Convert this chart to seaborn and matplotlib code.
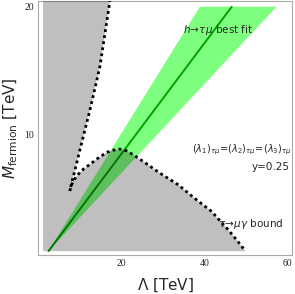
import numpy as np
import pandas as pd
import matplotlib
matplotlib.use('Agg')
import matplotlib.pyplot as plt
import seaborn as sns

# Boundary curves (Lambda [TeV], M_fermion [TeV])
upper_lam = [17.3, 17.1, 14.7, 12.3, 11.1, 9.9, 8.7, 7.9, 7.45]
upper_m = [21.0, 20.4, 15.3, 11.9, 10.35, 8.8, 7.2, 6.2, 5.57]

hump_lam = [7.45, 7.8, 8.4, 9.4, 10.8, 12.3, 14.7, 16.5, 17.8, 19.5, 21.2, 23.0,
            25.5, 29.0, 33.6, 37.5, 41.6, 45.6, 48.0, 49.8]
hump_m = [5.57, 6.0, 6.4, 6.85, 7.3, 7.65, 8.25, 8.6, 8.75, 8.85, 8.7, 8.35,
          7.8, 7.0, 6.05, 5.0, 3.97, 2.54, 1.6, 0.85]

# h -> tau mu best fit band
band_base = (2.3, 0.85)
band_left_top = (38.8, 20.0)
band_right_top = (57.3, 20.0)
best_fit_lam = [2.3, 46.5]
best_fit_m = [0.85, 20.0]

m_floor = 0.85
lam_floor = 1.0

sns.set_theme(style='white')
plt.rcParams['font.family'] = ['DejaVu Sans']

fig = plt.figure(figsize=(2.95, 2.94), dpi=100)
ax = fig.add_axes([0.1305, 0.1327, 0.859, 0.864])

# best-fit band (drawn first, the excluded region shades it)
bx = [band_base[0], band_left_top[0], band_right_top[0]]
by = [band_base[1], band_left_top[1], band_right_top[1]]
ax.fill(bx, by, color='#00ff00', alpha=0.5, lw=0, zorder=1)

fit = pd.DataFrame({'lam': best_fit_lam, 'm': best_fit_m})
sns.lineplot(data=fit, x='lam', y='m', color='#00a000', lw=1.4, ax=ax, zorder=2)

# excluded (gray) region
gx = [lam_floor, lam_floor] + upper_lam + hump_lam
gy = [m_floor, 21.0] + upper_m + hump_m
ax.fill(gx, gy, color='black', alpha=0.25, lw=0, zorder=3)

# dotted boundaries
ax.plot(upper_lam, upper_m, color='black', ls=(0, (1, 1.2)), lw=2, zorder=4)
ax.plot(hump_lam, hump_m, color='black', ls=(0, (1, 1.2)), lw=2, zorder=4)

ax.set_xlim(-0.1, 61)
ax.set_ylim(0.55, 20.45)

ax.set_xticks([10, 20, 30, 40, 50, 60])
ax.set_xticklabels(['', '20', '', '40', '', '60'])
ax.set_yticks([5, 10, 15, 20])
ax.set_yticklabels(['', '10', '', '20'])
ax.tick_params(direction='in', length=3, width=0.6, color='#999999',
               labelsize=7, pad=3)
for lab in ax.get_xticklabels() + ax.get_yticklabels():
    lab.set_family(['Liberation Serif', 'DejaVu Serif'])
for s in ax.spines.values():
    s.set_color('#aaaaaa')
    s.set_linewidth(0.8)

ax.set_xlabel(r'$\Lambda$ [TeV]', fontsize=11, labelpad=6)
ax.set_ylabel(r'$M_{\rm fermion}$ [TeV]', fontsize=11, labelpad=3)

ax.text(43.2, 18.2, r'$h\!\rightarrow\!\tau\mu$ best fit', fontsize=7.5,
        ha='center', va='center', zorder=5)
ax.text(60.9, 8.8, r'$(\lambda_1)_{\tau\mu}\!=\!(\lambda_2)_{\tau\mu}\!=\!(\lambda_3)_{\tau\mu}$',
        fontsize=7, ha='right', va='center', zorder=5)
ax.text(60.4, 7.45, 'y=0.25', fontsize=7.5, ha='right', va='center', zorder=5)
ax.text(59.0, 2.95, r'$\tau\!\rightarrow\!\mu\gamma$ bound', fontsize=7.5,
        ha='right', va='center', zorder=5)

fig.savefig('out.png', dpi=100)
